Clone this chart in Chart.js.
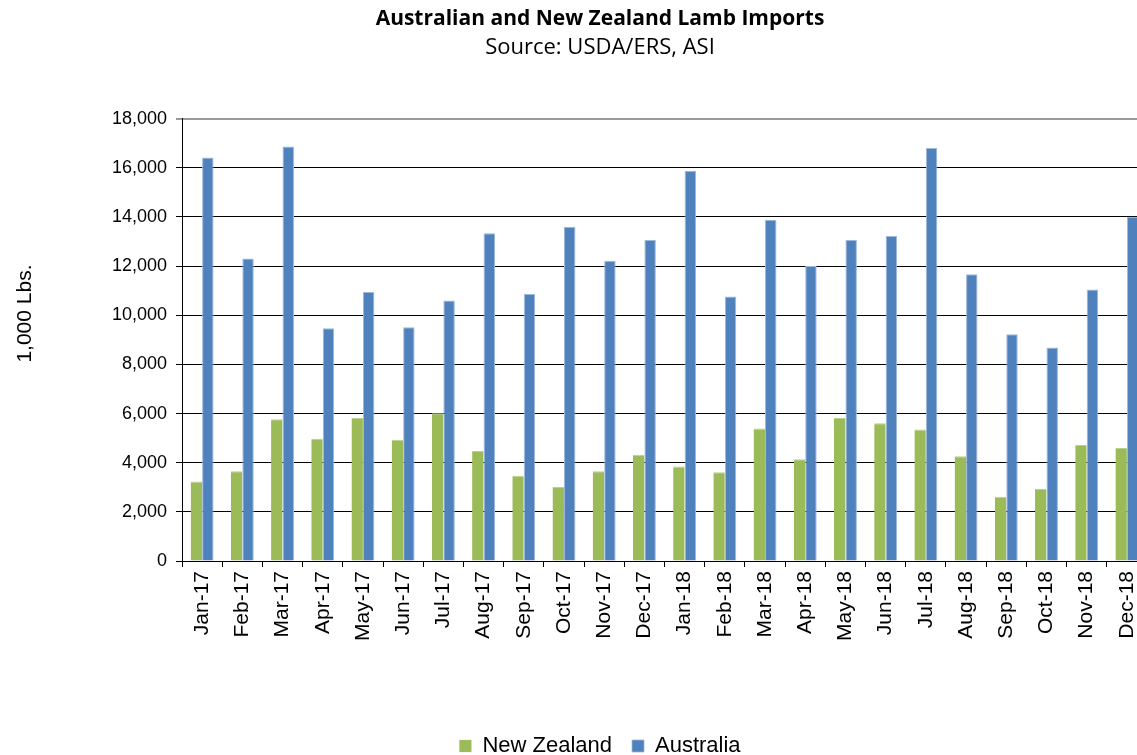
<!DOCTYPE html>
<html>
<head>
<meta charset="utf-8">
<script src="https://cdn.jsdelivr.net/npm/chart.js@4/dist/chart.umd.min.js"></script>
<style>
  html, body { margin: 0; padding: 0; background: #fff; overflow: hidden; }
  #wrap { width: 1200px; height: 767px; position: relative; }
</style>
</head>
<body>
<div id="wrap"><canvas id="lambChart"></canvas></div>
<script>
// dữ liệu
const months = ["Jan-17", "Feb-17", "Mar-17", "Apr-17", "May-17", "Jun-17", "Jul-17", "Aug-17",
  "Sep-17", "Oct-17", "Nov-17", "Dec-17", "Jan-18", "Feb-18", "Mar-18", "Apr-18",
  "May-18", "Jun-18", "Jul-18", "Aug-18", "Sep-18", "Oct-18", "Nov-18", "Dec-18"];

const newZealand = [3230, 3650, 5770, 4970, 5820, 4930, 6010, 4480, 3470, 3010, 3650, 4320,
  3850, 3610, 5390, 4140, 5820, 5600, 5350, 4260, 2610, 2930, 4720, 4600];

const australia = [16420, 12310, 16860, 9470, 10940, 9510, 10600, 13340, 10860, 13600, 12220, 13060,
  15880, 10760, 13880, 12000, 13060, 13220, 16800, 11670, 9230, 8690, 11050, 14010];

const yTicks = [0, 2000, 4000, 6000, 8000, 10000, 12000, 14000, 16000, 18000];

const ctx = document.getElementById("lambChart").getContext("2d");

const lambChart = new Chart(ctx, {
  type: "bar",
  data: {
    labels: months,
    datasets: [
      {
        label: "New Zealand",
        data: newZealand,
        backgroundColor: "#9BBB59",
        borderColor: "#B9D08A",
        borderWidth: { top: 1, left: 0, right: 0, bottom: 0 },
        categoryPercentage: 0.57,
        barPercentage: 1.0,
      },
      {
        label: "Australia",
        data: australia,
        backgroundColor: "#4F81BD",
        borderColor: "#9DB8DA",
        borderWidth: { top: 1, left: 1, right: 1, bottom: 0 },
        categoryPercentage: 0.57,
        barPercentage: 1.0,
      },
    ],
  },
  options: {
    responsive: true,
    maintainAspectRatio: false,
    animation: false,
    layout: { padding: { left: 0, right: 0, top: 6, bottom: 0 } },
    plugins: {
      title: {
        display: true,
        text: "Australian and New Zealand Lamb Imports",
        color: "#000",
        font: { family: "Open Sans", size: 21, weight: "bold" },
        padding: { top: 0, bottom: 3 },
      },
      subtitle: {
        display: true,
        text: "Source: USDA/ERS, ASI",
        color: "#000",
        font: { family: "Open Sans", size: 22 },
        padding: { top: 0, bottom: 58 },
      },
      legend: {
        position: "bottom",
        labels: {
          color: "#000",
          font: { family: "Liberation Sans", size: 22 },
          boxWidth: 12,
          boxHeight: 12,
          padding: 20,
        },
      },
      tooltip: { enabled: false },
    },
    scales: {
      x: {
        grid: {
          display: true,
          offset: true,
          drawOnChartArea: false,
          drawTicks: true,
          tickLength: 6,
          color: "#000",
        },
        border: { display: true, color: "#000", width: 1 },
        ticks: {
          color: "#000",
          font: { family: "Liberation Sans", size: 21 },
          minRotation: 90,
          maxRotation: 90,
          autoSkip: false,
          padding: 4,
        },
        afterFit: (scale) => { scale.height = 154; },
      },
      y: {
        min: 0,
        max: 18000,
        afterBuildTicks: (scale) => {
          scale.ticks = yTicks.map((v) => ({ value: v }));
        },
        grid: {
          color: (c) => (c.tick && c.tick.value === 18000 ? "#9a9a9a" : "#000"),
          lineWidth: (c) => (c.tick && c.tick.value === 18000 ? 2 : 1),
          drawTicks: true,
          tickLength: 6,
        },
        border: { display: true, color: "#000", width: 1 },
        ticks: {
          color: "#000",
          font: { family: "Liberation Sans", size: 18 },
          padding: 9,
          callback: (v) => v.toLocaleString("en-US"),
        },
        title: {
          display: true,
          text: "         1,000 Lbs.",
          color: "#000",
          font: { family: "Liberation Sans", size: 21 },
          padding: { top: 13, bottom: 0 },
        },
        afterFit: (scale) => { scale.width = 182; },
      },
      // trục phụ bên phải chỉ để giữ khoảng trống, giống vùng vẽ bị cắt trong hình gốc
      yRight: {
        position: "right",
        display: true,
        grid: { display: false },
        border: { display: false },
        ticks: { display: false },
        afterFit: (scale) => { scale.width = 53; },
      },
    },
  },
});
</script>
</body>
</html>
